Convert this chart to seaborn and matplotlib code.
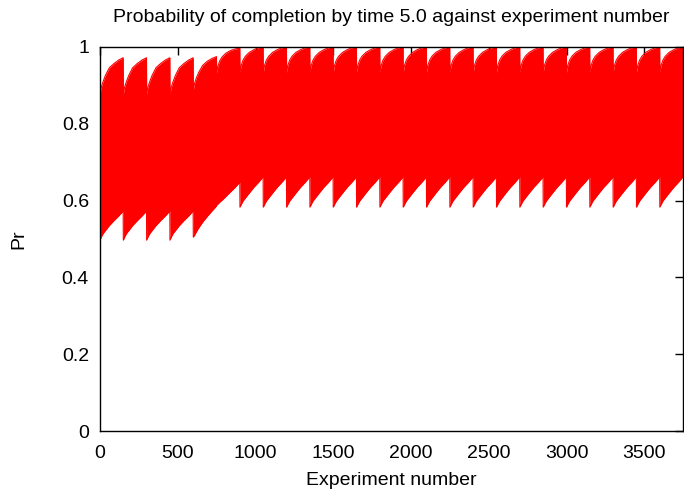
import matplotlib
matplotlib.use("Agg")
import matplotlib.pyplot as plt
import seaborn as sns
import pandas as pd

# experiment number at which each sawtooth segment starts (period of 150)
tooth_starts = [0, 150, 300, 450, 600, 750, 900, 1050, 1200, 1350, 1500, 1650, 1800,
                1950, 2100, 2250, 2400, 2550, 2700, 2850, 3000, 3150, 3300, 3450, 3600]
# which envelope profile every segment follows
tooth_profile = ['early', 'early', 'early', 'early', 'ramp_a', 'ramp_b'] + ['late'] * 19

tooth_offsets = [0, 8, 20, 35, 60, 90, 120, 149]

# upper envelope of Pr for each profile
upper_early = [0.877, 0.895, 0.910, 0.926, 0.946, 0.957, 0.966, 0.972]
upper_ramp_a = [0.888, 0.905, 0.920, 0.934, 0.952, 0.963, 0.970, 0.975]
upper_ramp_b = [0.932, 0.950, 0.964, 0.974, 0.984, 0.991, 0.995, 0.997]
upper_late = [0.934, 0.952, 0.966, 0.976, 0.986, 0.993, 0.998, 1.000]

# lower envelope of Pr for each profile
lower_early = [0.497, 0.505, 0.514, 0.522, 0.535, 0.548, 0.560, 0.573]
lower_ramp_a = [0.505, 0.510, 0.519, 0.529, 0.544, 0.559, 0.573, 0.586]
lower_ramp_b = [0.588, 0.591, 0.596, 0.601, 0.611, 0.623, 0.635, 0.648]
lower_late = [0.583, 0.590, 0.599, 0.607, 0.620, 0.635, 0.648, 0.662]

x_ticks = [0, 500, 1000, 1500, 2000, 2500, 3000, 3500]
y_ticks = [0, 0.2, 0.4, 0.6, 0.8, 1.0]
y_labels = ['0', '0.2', '0.4', '0.6', '0.8', '1']

uppers = {'early': upper_early, 'ramp_a': upper_ramp_a, 'ramp_b': upper_ramp_b, 'late': upper_late}
lowers = {'early': lower_early, 'ramp_a': lower_ramp_a, 'ramp_b': lower_ramp_b, 'late': lower_late}

rows = []
for start, prof in zip(tooth_starts, tooth_profile):
    for off, up, lo in zip(tooth_offsets, uppers[prof], lowers[prof]):
        rows.append({'experiment': start + off, 'upper': up, 'lower': lo})
df = pd.DataFrame(rows)

sns.set_style('white')
plt.rcParams['font.family'] = ['Liberation Sans', 'DejaVu Sans']
plt.rcParams['text.color'] = 'black'
plt.rcParams['axes.labelcolor'] = 'black'

fig = plt.figure(figsize=(6.84, 4.92), dpi=100)
ax = fig.add_axes([100 / 684, 1 - 431 / 492, 583 / 684, 384 / 492])

# the series swings so fast it renders as a solid band between the envelopes
ax.fill_between(df['experiment'], df['lower'], df['upper'], color='#ff0000', lw=0)
sns.lineplot(data=df, x='experiment', y='upper', ax=ax, color='#ff0000', lw=0.8)
sns.lineplot(data=df, x='experiment', y='lower', ax=ax, color='#ff0000', lw=0.8)

ax.set_xlim(0, 3749)
ax.set_ylim(0, 1)
ax.set_xticks(x_ticks)
ax.set_xticklabels([str(t) for t in x_ticks])
ax.set_yticks(y_ticks)
ax.set_yticklabels(y_labels)
ax.tick_params(direction='in', length=6, width=1, top=True, right=True,
               labelsize=14, colors='black')
ax.tick_params(axis='y', pad=8)
ax.tick_params(axis='x', pad=10)
for spine in ax.spines.values():
    spine.set_color('black')
    spine.set_linewidth(1)

ax.set_title('Probability of completion by time 5.0 against experiment number',
             fontsize=14, pad=18)
ax.set_xlabel('Experiment number', fontsize=14, labelpad=7)
ax.set_ylabel('Pr', fontsize=14, labelpad=25)

fig.savefig('out.png', dpi=100)
